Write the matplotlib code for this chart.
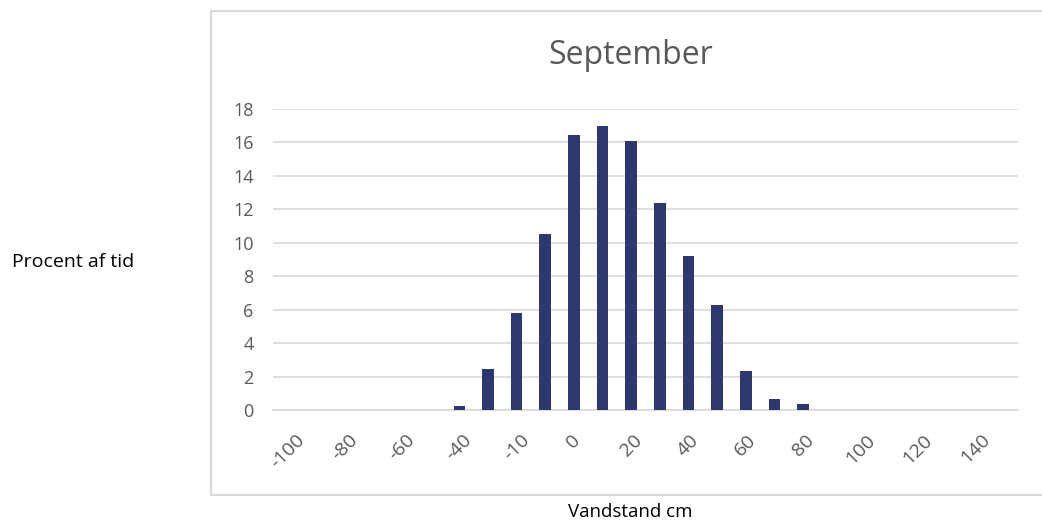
import matplotlib
matplotlib.use("Agg")
import matplotlib.pyplot as plt

# Data
categories = ["-100", "-90", "-80", "-70", "-60", "-50", "-40", "-30", "-10", "-5",
              "0", "10", "20", "30", "40", "50", "60", "70", "80", "90",
              "100", "110", "120", "130", "140", "150"]
values = [0, 0, 0, 0, 0, 0, 0.25, 2.43, 5.80, 10.50,
          16.42, 16.98, 16.10, 12.38, 9.19, 6.30, 2.31, 0.64, 0.38, 0,
          0, 0, 0, 0, 0, 0]
y_ticks = [0, 2, 4, 6, 8, 10, 12, 14, 16, 18]
title = "September"
x_title = "Vandstand cm"
y_title = "Procent af tid"

plt.rcParams['font.family'] = ['Open Sans', 'DejaVu Sans']

W, H = 1042, 523
fig = plt.figure(figsize=(W / 100, H / 100), dpi=100)

# chart frame (open at right)
frame_kw = dict(color="#D9D9D9", lw=1.5, transform=fig.transFigure)
fig.add_artist(plt.Line2D([211 / W, 211 / W], [1 - 10.5 / H, 1 - 494.5 / H], **frame_kw))
fig.add_artist(plt.Line2D([211 / W, 1.0], [1 - 10.5 / H, 1 - 10.5 / H], **frame_kw))
fig.add_artist(plt.Line2D([211 / W, 1.0], [1 - 494.5 / H, 1 - 494.5 / H], **frame_kw))

left, right = 273 / W, 1018 / W
bottom, top = 1 - 410 / H, 1 - 109 / H
ax = fig.add_axes([left, bottom, right - left, top - bottom])

x = list(range(len(categories)))
ax.bar(x, values, width=0.4, color="#2E3770", zorder=3)

ax.set_xlim(-0.5, len(categories) - 0.5)
ax.set_ylim(0, 18)
ax.set_yticks(y_ticks)
ax.set_yticklabels([str(v) for v in y_ticks], color="#595959", fontsize=13)
ax.grid(axis="y", color="#D9D9D9", lw=1.2, zorder=0)
ax.set_axisbelow(True)

shown = x[::2]
ax.set_xticks(shown)
ax.set_xticklabels([categories[i] for i in shown], rotation=45, ha="center",
                   va="top", color="#595959", fontsize=14)
ax.tick_params(axis="y", length=0, pad=14)
ax.tick_params(axis="x", length=0, pad=15)

for s in ["top", "right", "left"]:
    ax.spines[s].set_visible(False)
ax.spines["bottom"].set_color("#D9D9D9")
ax.spines["bottom"].set_linewidth(1.2)

fig.text(631 / W, 1 - 55 / H, title, ha="center", va="center", fontsize=23, color="#595959")
fig.text(12 / W, 1 - 262 / H, y_title, ha="left", va="center", fontsize=14, color="#000000")
fig.text(630 / W, 1 - 512 / H, x_title, ha="center", va="center", fontsize=13.5, color="#000000")

fig.savefig("out.png", dpi=100)
